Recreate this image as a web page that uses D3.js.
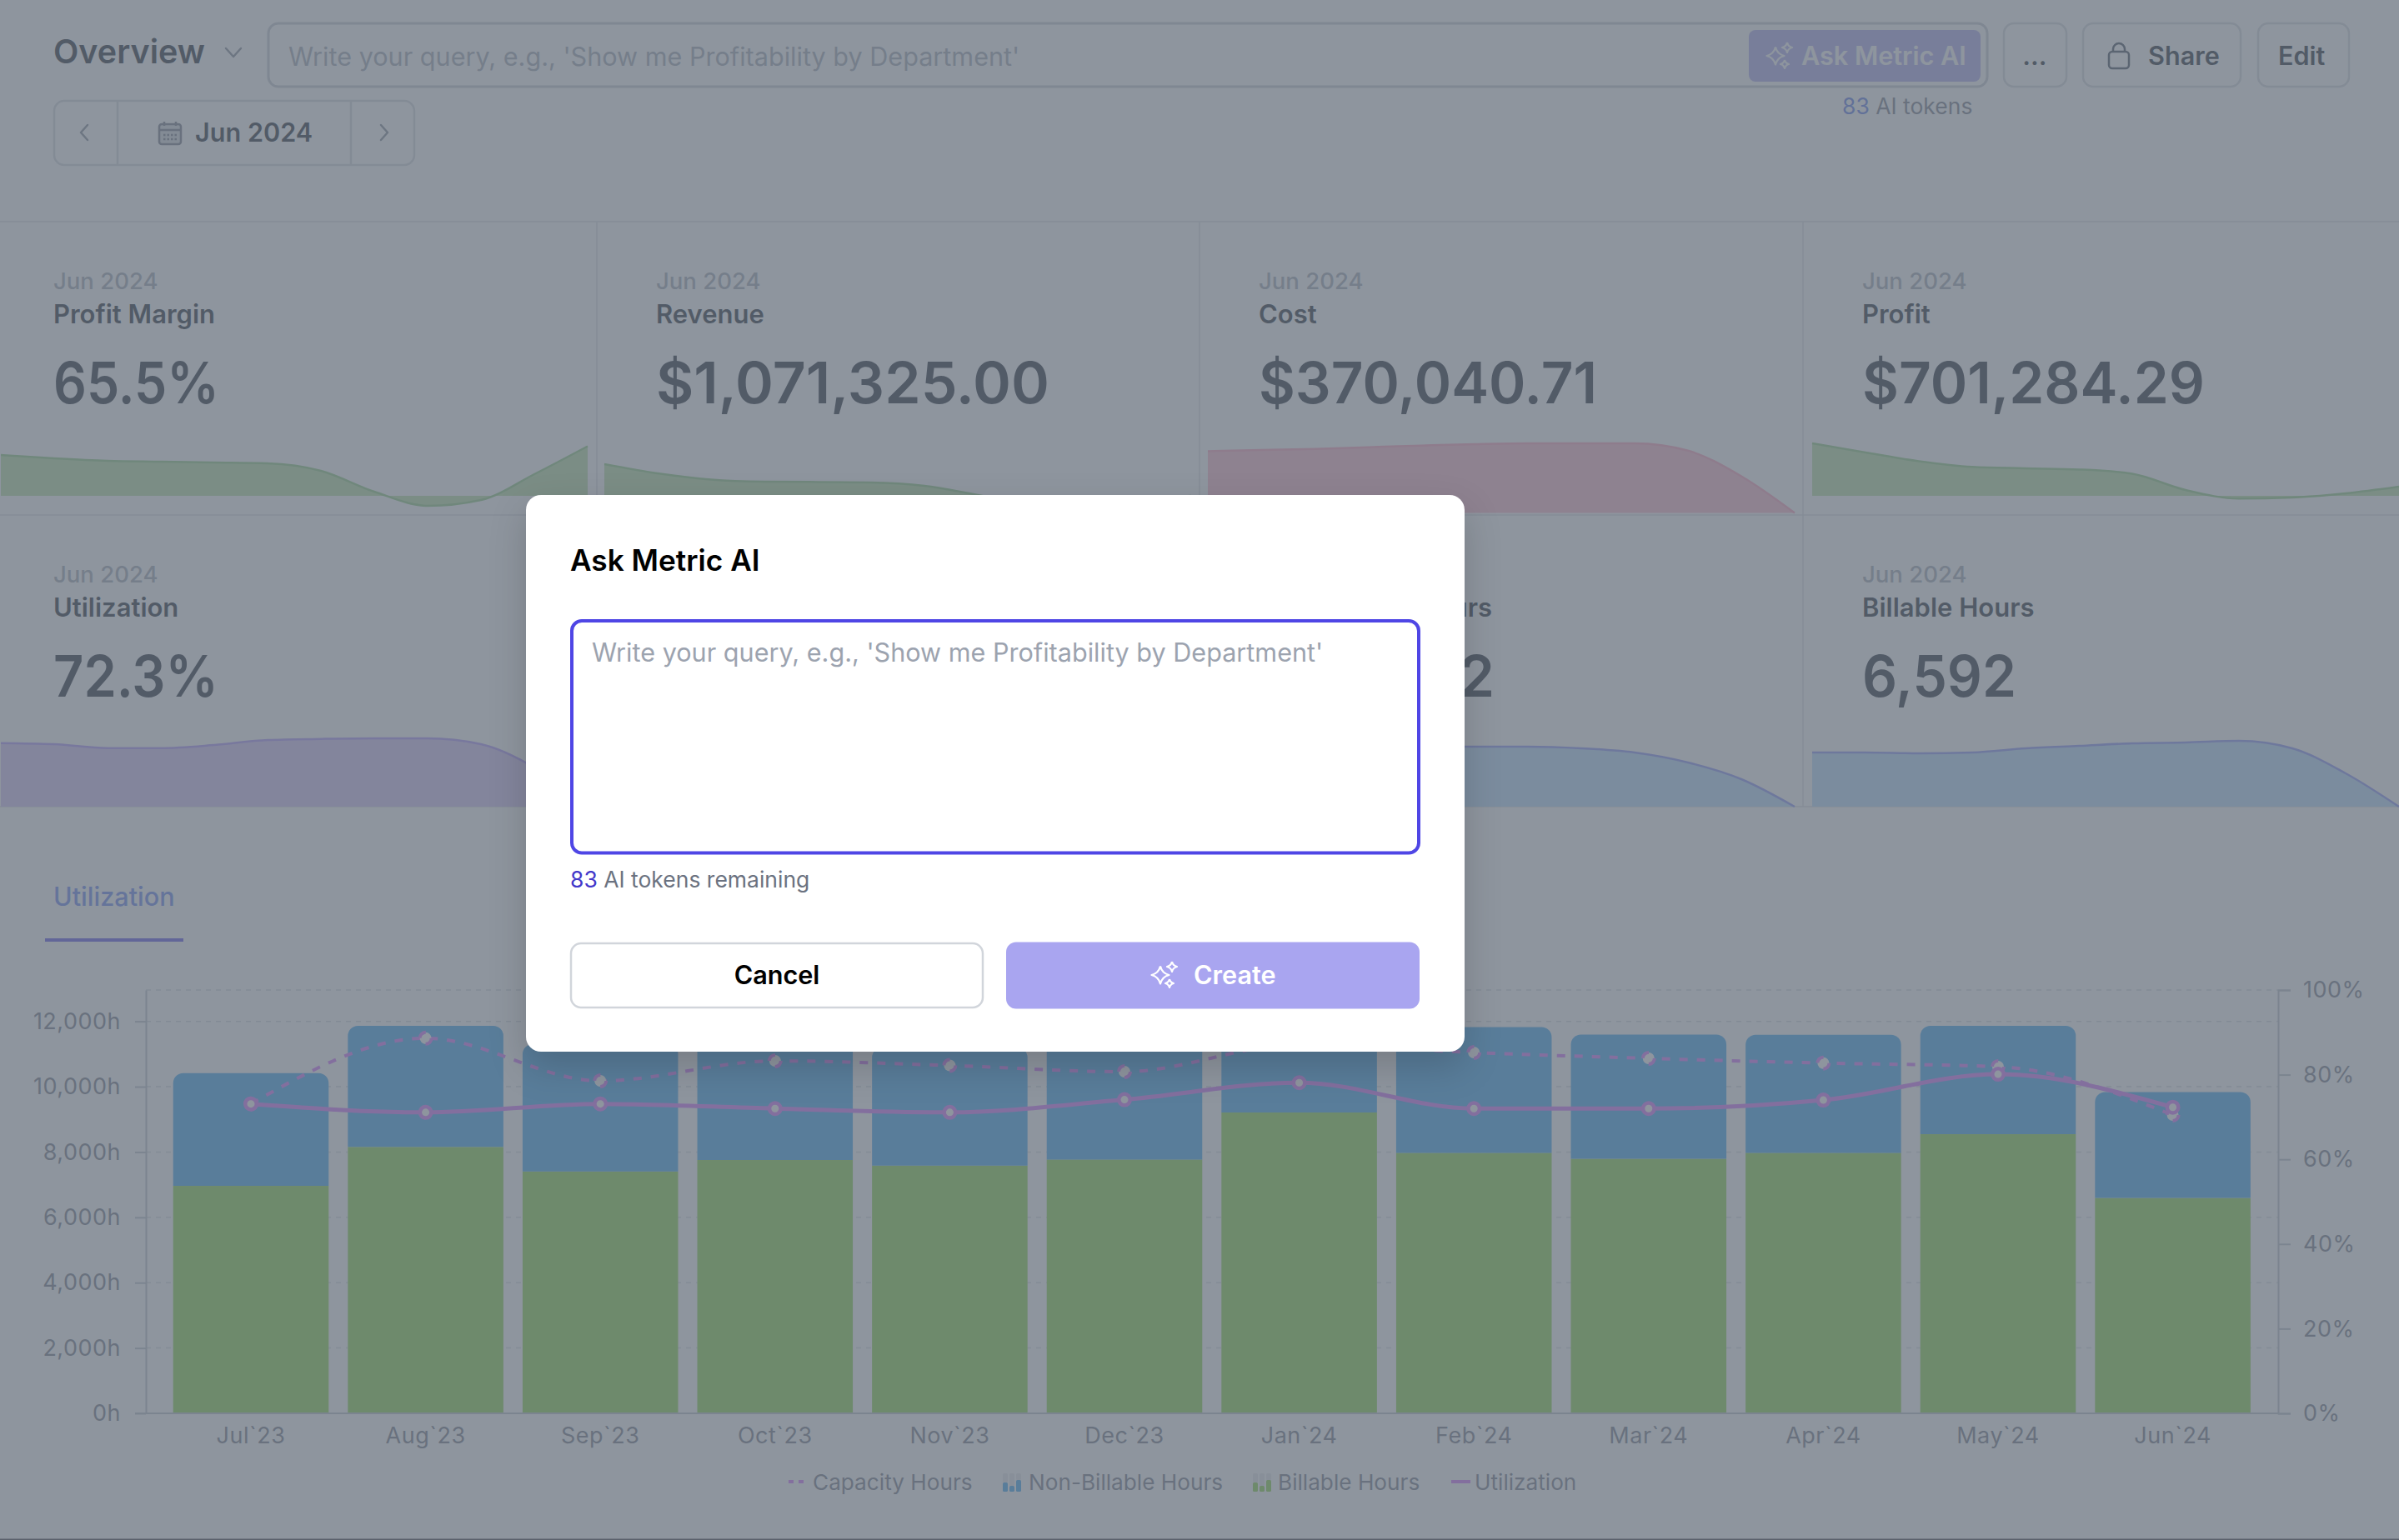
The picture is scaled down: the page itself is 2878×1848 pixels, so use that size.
<!doctype html>
<html>
<head>
<meta charset="utf-8">
<script src="https://cdn.jsdelivr.net/npm/d3@7"></script>
<style>
html, body { margin: 0; padding: 0; background: #fff; }
svg { display: block; }
text { font-family: Inter, "Noto Sans", sans-serif; }
.axis path, .axis line { stroke: #b4bac4; stroke-width: 2px; }
.axis text { font-size: 27px; fill: #6b7280; letter-spacing: 0.5px; }
</style>
</head>
<body>
<svg id="chart" width="2878" height="1848"></svg>
<script>
// ---- chart values ----
var months = ["Jul`23", "Aug`23", "Sep`23", "Oct`23", "Nov`23", "Dec`23", "Jan`24", "Feb`24", "Mar`24", "Apr`24", "May`24", "Jun`24"];
var billableHours = [6964, 8155, 7405, 7755, 7586, 7770, 9212, 7975, 7793, 7975, 8546, 6592];
var nonBillableHours = [3452, 3707, 3895, 3845, 3614, 3630, 2488, 3849, 3804, 3612, 3316, 3245];
var capacityHours = [9474, 11484, 10178, 10790, 10650, 10459, 11300, 11046, 10867, 10722, 10612, 9133];
var utilization = [73.1, 71.1, 73.1, 72.0, 71.1, 74.1, 78.1, 72.0, 72.0, 74.0, 80.1, 72.3];
var hourTicks = [0, 2000, 4000, 6000, 8000, 10000, 12000];
var percentTicks = [0, 20, 40, 60, 80, 100];

// kpi cards
var kpiTitles = ["Profit Margin", "Revenue", "Cost", "Profit", "Utilization", "Billable Hours"];
var kpiValues = ["65.5%", "$1,071,325.00", "$370,040.71", "$701,284.29", "72.3%", "6,592"];

// kpi sparklines, height above each card's base line
var profitMarginTrend = [49, 45, 42, 41, 40, 39, 30, 5, -12, -5, 26, 59.5];
var revenueTrend = [38, 27, 19.5, 17, 16.6, 16, 12, 1, -10, -8, -4, 0];
var costTrend = [74, 75.5, 76.7, 78.8, 80.8, 82.5, 83.5, 83.5, 83.5, 74.7, 44, 0];
var profitTrend = [63, 52, 41.5, 34.7, 33, 31.6, 26.5, 7, -3.3, -2, 3, 11];
var utilizationTrend = [76.3, 75, 70.3, 70.3, 74, 80, 81.3, 82, 82, 75, 47, 0];
var nonBillableTrend = [68, 70, 70, 71, 72, 72, 72, 70, 65, 53, 33, 0];
var billableTrend = [65, 65, 64, 65, 70, 73, 76, 77, 79, 70, 40, 0];
var kpiTrends = [profitMarginTrend, revenueTrend, costTrend, profitTrend, utilizationTrend, billableTrend];

// where and how each card is drawn, same order as the lists above
var green = { fill: "#b3de9c", line: "#86c878" };
var kpiLayout = [
  { col: 0, row: 0, valueWidth: 199, tone: green },
  { col: 1, row: 0, valueWidth: 472, tone: green },
  { col: 2, row: 0, valueWidth: 406, tone: { fill: "#ffb2c8", line: "#ff9ab8" }, base: 20.5 },
  { col: 3, row: 0, valueWidth: 411, tone: green },
  { col: 0, row: 1, valueWidth: 198, tone: { fill: "#d3bef8", line: "#a78bfa" } },
  { col: 3, row: 1, valueWidth: 185, tone: { fill: "#b3daff", line: "#818cf8" } }
];

var svg = d3.select("#chart");

function label(parent, x, y, str, size, weight, color, anchor) {
  return parent.append("text")
    .attr("x", x).attr("y", y)
    .attr("text-anchor", anchor || "start")
    .style("font-size", size + "px")
    .style("font-weight", weight)
    .style("fill", color)
    .text(str);
}

function box(parent, x, y, w, h, r, fill, stroke, sw) {
  return parent.append("rect")
    .attr("x", x).attr("y", y).attr("width", w).attr("height", h).attr("rx", r)
    .attr("fill", fill).attr("stroke", stroke || "none").attr("stroke-width", sw || 0);
}

// three four-point stars
function sparkles(parent, cx, cy, color, sw) {
  [[-4, 0, 10.5], [10, -10, 6], [7, 10, 5]].forEach(function(st) {
    var x = cx + st[0], y = cy + st[1], r = st[2];
    var p = d3.path();
    p.moveTo(x, y - r);
    p.quadraticCurveTo(x + r * 0.2, y - r * 0.2, x + r, y);
    p.quadraticCurveTo(x + r * 0.2, y + r * 0.2, x, y + r);
    p.quadraticCurveTo(x - r * 0.2, y + r * 0.2, x - r, y);
    p.quadraticCurveTo(x - r * 0.2, y - r * 0.2, x, y - r);
    parent.append("path").attr("d", p.toString()).attr("fill", "none")
      .attr("stroke", color).attr("stroke-width", sw).attr("stroke-linejoin", "round");
  });
}

function chevron(parent, x, y, w, h, dir) {
  var pts = dir == "down" ? [[x - w, y - h], [x, y + h], [x + w, y - h]]
    : [[x - dir * w, y - h], [x + dir * w, y], [x - dir * w, y + h]];
  parent.append("path").attr("d", d3.line()(pts)).attr("fill", "none")
    .attr("stroke", "#7b8290").attr("stroke-width", 2.5).attr("stroke-linecap", "round").attr("stroke-linejoin", "round");
}

svg.append("rect").attr("width", 2878).attr("height", 1848).attr("fill", "#ffffff");

// ---- page header ----
var placeholder = "Write your query, e.g., 'Show me Profitability by Department'";
var header = svg.append("g");
label(header, 64, 76, "Overview", 39.5, 600, "#111827");
chevron(header, 280, 63, 9, 5, "down");
box(header, 322, 28, 2062, 76, 12, "#fff", "#c2c6ce", 3);
label(header, 346, 79, placeholder, 30.6, 400, "#9ca3af");
box(header, 2098, 36, 278, 62, 8, "#a9a5f0");
sparkles(header, 2134, 67, "#fff", 2.2);
label(header, 2161, 78, "Ask Metric AI", 30.6, 600, "#fff");
box(header, 2404, 28, 75, 76, 12, "#fff", "#d1d5db", 2.5);
label(header, 2441, 78, "...", 30.6, 600, "#111827", "middle");
box(header, 2499, 28, 189, 76, 12, "#fff", "#d1d5db", 2.5);
box(header, 2530, 62, 24, 20, 4, "none", "#374151", 2.5);
header.append("path").attr("d", "M2535,62 V59 A7,7 0 0 1 2549,59 V62").attr("fill", "none").attr("stroke", "#374151").attr("stroke-width", 2.5);
label(header, 2577, 78, "Share", 30.6, 600, "#111827");
box(header, 2709, 28, 109, 76, 12, "#fff", "#d1d5db", 2.5);
label(header, 2733, 78, "Edit", 30.6, 600, "#111827");
var tokensTop = label(header, 2210, 137, "", 26.5, 400, "#6b7280");
tokensTop.append("tspan").style("fill", "#4f6fe5").text("83");
tokensTop.append("tspan").text(" AI tokens");

// month picker
box(header, 65, 121, 432, 77, 12, "#fff", "#d1d5db", 2.5);
header.append("path").attr("d", "M141,121 V198 M421,121 V198").attr("stroke", "#d1d5db").attr("stroke-width", 2.5);
chevron(header, 101, 159, 4, 9, -1);
chevron(header, 461, 159, 4, 9, 1);
box(header, 191, 149, 26, 24, 3, "#d1d5db", "#6b7280", 2.5);
header.append("path").attr("d", "M191,156 H217 M197,146 V151 M211,146 V151").attr("stroke", "#6b7280").attr("stroke-width", 2.5);
header.append("path").attr("d", "M196,162 H212 M196,167 H212").attr("stroke", "#6b7280").attr("stroke-width", 2.5).attr("stroke-dasharray", "2.5 2");
label(header, 234, 170, "Jun 2024", 30.6, 600, "#111827");

// ---- kpi cards ----
var cardX = [0, 716, 1439, 2163];
var sparkStartX = [1, 725, 1449, 2174];
var rowTop = [266, 618];
var sparkBase = [595, 968];
var cards = svg.append("g");

cards.append("path")
  .attr("d", "M0,266 H2878 M0,618 H2878 M0,968 H2878 M716,266 V968 M1439,266 V968 M2163,266 V968")
  .attr("stroke", "#d8dbe1").attr("stroke-width", 1.5).attr("fill", "none");

var sparkX = d3.scaleLinear().domain([0, 11]).range([0, 704]);
var sparkY = d3.scaleLinear().domain([0, 100]).range([0, -100]);
var sparkArea = d3.area().x(function(d, i) { return sparkX(i); }).y0(sparkY(0)).y1(function(d) { return sparkY(d); }).curve(d3.curveMonotoneX);
var sparkLine = d3.line().x(function(d, i) { return sparkX(i); }).y(function(d) { return sparkY(d); }).curve(d3.curveMonotoneX);

function drawSpark(col, base, trend, tone) {
  var g = cards.append("g").attr("transform", "translate(" + sparkStartX[col] + "," + base + ")");
  g.append("path").attr("d", sparkArea(trend)).attr("fill", tone.fill);
  g.append("path").attr("d", sparkLine(trend)).attr("fill", "none").attr("stroke", tone.line).attr("stroke-width", 2.5);
}

kpiLayout.forEach(function(c, i) {
  var x = cardX[c.col] + (c.col == 0 ? 64 : 71);
  var top = rowTop[c.row];
  label(cards, x, top + 81, "Jun 2024", 27.5, 500, "#9ca3af");
  label(cards, x, top + 122, kpiTitles[i], 31, 600, "#111827");
  label(cards, x, top + 218, kpiValues[i], 68.8, 600, "#111827")
    .attr("textLength", c.valueWidth).attr("lengthAdjust", "spacingAndGlyphs");
  drawSpark(c.col, sparkBase[c.row] + (c.base || 0), kpiTrends[i], c.tone);
});
// third card of the second row, mostly behind the dialog
label(cards, 1790, 740, "Hours", 31, 600, "#111827", "end");
label(cards, 1793, 836, "2", 68.8, 600, "#111827", "end");
drawSpark(2, 968, nonBillableTrend, kpiLayout[5].tone);

// ---- utilization tab ----
label(svg, 64, 1087, "Utilization", 30.6, 500, "#5b7bf0");
svg.append("rect").attr("x", 54).attr("y", 1126).attr("width", 166).attr("height", 4).attr("fill", "#4f46e5");

// ---- combo chart ----
var x = d3.scaleBand().domain(months).range([196.2, 2711.4]).paddingInner(0.11).paddingOuter(0.055);
var y = d3.scaleLinear().domain([0, 12960]).range([1696, 1188]);
var y2 = d3.scaleLinear().domain([0, 100]).range([1696, 1188]);

var plot = svg.append("g");

plot.selectAll(".grid").data(hourTicks.slice(1).concat(12960)).enter().append("line")
  .attr("class", "grid")
  .attr("x1", 175).attr("x2", 2733)
  .attr("y1", function(d) { return y(d); }).attr("y2", function(d) { return y(d); })
  .attr("stroke", "#d1d5db").attr("stroke-width", 1.5).attr("stroke-dasharray", "6 6");

var stackRows = months.map(function(m, i) { return { month: m, billable: billableHours[i], nonBillable: nonBillableHours[i] }; });
var stacked = d3.stack().keys(["billable", "nonBillable"])(stackRows);

// bars: only the top of the stack gets round corners
function topRounded(x0, x1, y0, y1, r) {
  var p = d3.path();
  p.moveTo(x0, y0);
  p.lineTo(x0, y1 + r);
  p.arcTo(x0, y1, x0 + r, y1, r);
  p.lineTo(x1 - r, y1);
  p.arcTo(x1, y1, x1, y1 + r, r);
  p.lineTo(x1, y0);
  p.closePath();
  return p.toString();
}

plot.selectAll(".billable").data(stacked[0]).enter().append("rect")
  .attr("class", "billable")
  .attr("x", function(d) { return x(d.data.month); })
  .attr("width", x.bandwidth())
  .attr("y", function(d) { return y(d[1]); })
  .attr("height", function(d) { return y(d[0]) - y(d[1]); })
  .attr("fill", "#80d238");

plot.selectAll(".nonbillable").data(stacked[1]).enter().append("path")
  .attr("class", "nonbillable")
  .attr("d", function(d) { return topRounded(x(d.data.month), x(d.data.month) + x.bandwidth(), y(d[0]), y(d[1]), 12); })
  .attr("fill", "#2f9ef0");

plot.append("g").attr("class", "axis").attr("transform", "translate(175,0)")
  .call(d3.axisLeft(y).tickValues(hourTicks).tickFormat(function(d) { return d3.format(",")(d) + "h"; }).tickSize(13).tickSizeOuter(0).tickPadding(17));
plot.append("g").attr("class", "axis").attr("transform", "translate(2733,0)")
  .call(d3.axisRight(y2).tickValues(percentTicks).tickFormat(function(d) { return d + "%"; }).tickSize(15).tickPadding(15));
var axisB = plot.append("g").attr("class", "axis").attr("transform", "translate(0,1696)")
  .call(d3.axisBottom(x).tickSize(0).tickPadding(17));
axisB.select(".domain").attr("d", "M162,0 H2733");

// lines, with the purple of the legend
var purple = "#d26aff";
var capacityLine = d3.line().x(function(d, i) { return x(months[i]) + x.bandwidth() / 2; }).y(function(d) { return y(d); }).curve(d3.curveMonotoneX);
var utilLine = d3.line().x(function(d, i) { return x(months[i]) + x.bandwidth() / 2; }).y(function(d) { return y2(d); }).curve(d3.curveMonotoneX);

plot.append("path").attr("d", capacityLine(capacityHours)).attr("fill", "none")
  .attr("stroke", purple).attr("stroke-width", 4).attr("stroke-dasharray", "10 11");
plot.append("path").attr("d", utilLine(utilization)).attr("fill", "none")
  .attr("stroke", purple).attr("stroke-width", 5);

plot.selectAll(".capDot").data(capacityHours).enter().append("circle")
  .attr("class", "capDot")
  .attr("cx", function(d, i) { return x(months[i]) + x.bandwidth() / 2; })
  .attr("cy", function(d) { return y(d); })
  .attr("r", 7).attr("fill", "#fff").attr("stroke", purple).attr("stroke-width", 4).attr("stroke-dasharray", "11 11");
plot.selectAll(".utilDot").data(utilization).enter().append("circle")
  .attr("class", "utilDot")
  .attr("cx", function(d, i) { return x(months[i]) + x.bandwidth() / 2; })
  .attr("cy", function(d) { return y2(d); })
  .attr("r", 6.75).attr("fill", "#fff").attr("stroke", purple).attr("stroke-width", 4.5);

// ---- legend ----
var legendNames = ["Capacity Hours", "Non-Billable Hours", "Billable Hours", "Utilization"];
var legendLayout = [
  { kind: "dash", iconX: 946, textX: 975, color: purple },
  { kind: "bars", iconX: 1203, textX: 1234, color: "#2f9ef0" },
  { kind: "bars", iconX: 1503, textX: 1533, color: "#80d238" },
  { kind: "line", iconX: 1741, textX: 1769, color: purple }
];
var legend = svg.append("g");
legendLayout.forEach(function(d, i) {
  label(legend, d.textX, 1788, legendNames[i], 26.2, 400, "#6b7280");
  if (d.kind == "dash") {
    legend.append("line").attr("x1", d.iconX).attr("x2", d.iconX + 21).attr("y1", 1778).attr("y2", 1778)
      .attr("stroke", d.color).attr("stroke-width", 4).attr("stroke-dasharray", "6 6");
  } else if (d.kind == "line") {
    legend.append("line").attr("x1", d.iconX).attr("x2", d.iconX + 23).attr("y1", 1778).attr("y2", 1778)
      .attr("stroke", d.color).attr("stroke-width", 4);
  } else {
    [[0, 11], [8, 7], [16, 14]].forEach(function(b) {
      legend.append("rect").attr("x", d.iconX + b[0]).attr("y", 1790 - b[1]).attr("width", 6).attr("height", b[1]).attr("rx", 1.5).attr("fill", d.color);
      legend.append("rect").attr("x", d.iconX + b[0]).attr("y", 1768).attr("width", 6).attr("height", 22 - b[1]).attr("rx", 1.5).attr("fill", "#e5e7eb");
    });
  }
});

// ---- scrim and dialog ----
svg.append("rect").attr("width", 2878).attr("height", 1848).attr("fill", "rgba(104,114,126,0.75)");
svg.append("rect").attr("y", 1846.5).attr("width", 2878).attr("height", 1.5).attr("fill", "#5a606b");

var modal = svg.append("g");
box(modal, 631, 594, 1126, 668, 18, "#fff").style("filter", "drop-shadow(0 18px 22px rgba(0,0,0,0.16))");
label(modal, 684, 685, "Ask Metric AI", 35.2, 600, "#000");
box(modal, 686, 745, 1016, 278.5, 12, "#fff", "#4f46e5", 4);
label(modal, 710, 794, placeholder, 30.6, 400, "#9ca3af");
var tokens = label(modal, 684, 1065, "", 26.5, 400, "#6b7280");
tokens.append("tspan").style("fill", "#4338ca").text("83");
tokens.append("tspan").text(" AI tokens remaining");
box(modal, 685, 1132, 494, 77, 12, "#fff", "#d1d5db", 2.5);
label(modal, 932, 1181, "Cancel", 30.6, 600, "#000", "middle");
box(modal, 1207, 1130.5, 496, 80, 12, "#a9a5f0");
sparkles(modal, 1396, 1170, "#fff", 2.2);
label(modal, 1432, 1181, "Create", 30.6, 600, "#fff");
</script>
</body>
</html>
